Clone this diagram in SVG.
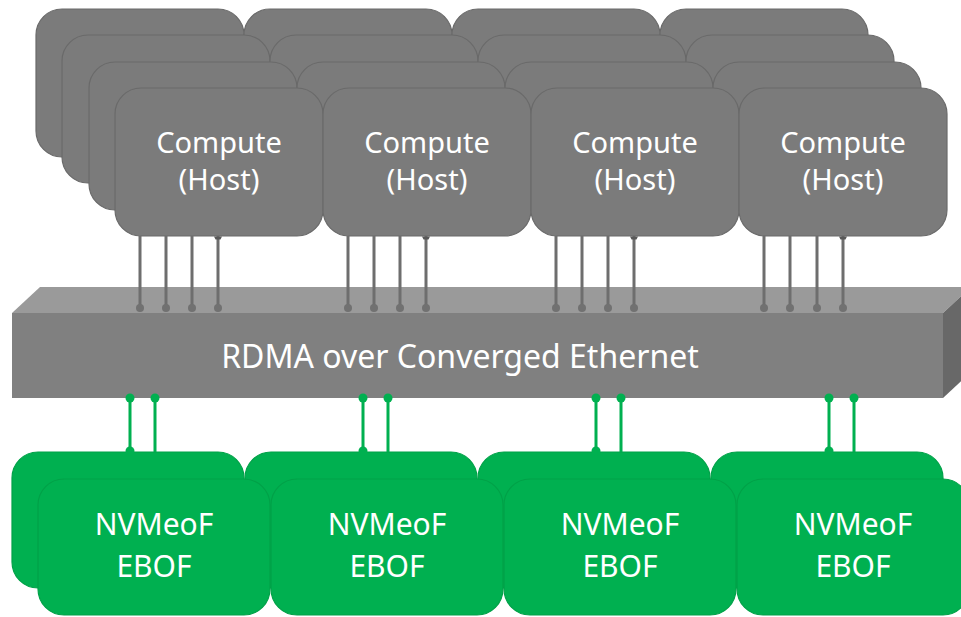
<svg xmlns="http://www.w3.org/2000/svg" width="961" height="617" viewBox="0 0 961 617">
<style>
.host{fill:#7b7b7b;stroke:#6a6a6a;stroke-width:1.2}
.ebof{fill:#00b050;stroke:#00a148;stroke-width:1.2}
.lbl{fill:#ffffff;font-family:"Noto Sans","Open Sans","Liberation Sans",sans-serif;font-weight:400;text-anchor:middle}
.hl{font-size:29px}
.el{font-size:30px}
.gl{stroke:#6e6e6e;stroke-width:3}
.gd{fill:#717171}
.nl{stroke:#00b050;stroke-width:3}
.nd{fill:#00b050}
</style>
<defs>
<rect id="hbox" width="208" height="148" rx="26" ry="26"/>
<rect id="ebox" width="232" height="136" rx="26" ry="26"/>
</defs>
<rect width="961" height="617" fill="#ffffff"/>

<!-- Compute host stacks, drawn back layer first -->
<g id="host-1-l1"><use href="#hbox" class="host" x="36" y="9"/></g>
<g id="host-2-l1"><use href="#hbox" class="host" x="244" y="9"/></g>
<g id="host-3-l1"><use href="#hbox" class="host" x="452" y="9"/></g>
<g id="host-4-l1"><use href="#hbox" class="host" x="660" y="9"/></g>
<g id="host-1-l2"><use href="#hbox" class="host" x="62" y="35"/></g>
<g id="host-2-l2"><use href="#hbox" class="host" x="270" y="35"/></g>
<g id="host-3-l2"><use href="#hbox" class="host" x="478" y="35"/></g>
<g id="host-4-l2"><use href="#hbox" class="host" x="686" y="35"/></g>
<g id="host-1-l3"><use href="#hbox" class="host" x="89" y="62"/></g>
<g id="host-2-l3"><use href="#hbox" class="host" x="297" y="62"/></g>
<g id="host-3-l3"><use href="#hbox" class="host" x="505" y="62"/></g>
<g id="host-4-l3"><use href="#hbox" class="host" x="713" y="62"/></g>
<g id="host-1"><use href="#hbox" class="host" x="115" y="88"/>
<text class="lbl hl" x="219" y="153">Compute</text><text class="lbl hl" x="219" y="190">(Host)</text></g>
<g id="host-2"><use href="#hbox" class="host" x="323" y="88"/>
<text class="lbl hl" x="427" y="153">Compute</text><text class="lbl hl" x="427" y="190">(Host)</text></g>
<g id="host-3"><use href="#hbox" class="host" x="531" y="88"/>
<text class="lbl hl" x="635" y="153">Compute</text><text class="lbl hl" x="635" y="190">(Host)</text></g>
<g id="host-4"><use href="#hbox" class="host" x="739" y="88"/>
<text class="lbl hl" x="843" y="153">Compute</text><text class="lbl hl" x="843" y="190">(Host)</text></g>

<!-- Switch (3D bar) -->
<g id="switch">
<polygon points="12,313 40,287 971,287 943,313" fill="#9a9a9a"/>
<polygon points="943,313 971,287 971,372 943,398" fill="#686868"/>
<rect x="12" y="313" width="931" height="85" fill="#808080"/>
<text class="lbl" x="460" y="368" font-size="32">RDMA over Converged Ethernet</text>
</g>

<!-- NVMeoF EBOF stacks -->
<g id="ebof-1-l1"><use href="#ebox" class="ebof" x="12" y="452"/></g>
<g id="ebof-2-l1"><use href="#ebox" class="ebof" x="245" y="452"/></g>
<g id="ebof-3-l1"><use href="#ebox" class="ebof" x="478" y="452"/></g>
<g id="ebof-4-l1"><use href="#ebox" class="ebof" x="711" y="452"/></g>
<g id="ebof-1"><use href="#ebox" class="ebof" x="38" y="479"/>
<text class="lbl el" x="154" y="535">NVMeoF</text><text class="lbl el" x="154" y="577">EBOF</text></g>
<g id="ebof-2"><use href="#ebox" class="ebof" x="271" y="479"/>
<text class="lbl el" x="387" y="535">NVMeoF</text><text class="lbl el" x="387" y="577">EBOF</text></g>
<g id="ebof-3"><use href="#ebox" class="ebof" x="504" y="479"/>
<text class="lbl el" x="620" y="535">NVMeoF</text><text class="lbl el" x="620" y="577">EBOF</text></g>
<g id="ebof-4"><use href="#ebox" class="ebof" x="737" y="479"/>
<text class="lbl el" x="853" y="535">NVMeoF</text><text class="lbl el" x="853" y="577">EBOF</text></g>

<!-- Connectors -->
<g id="connectors">
<g id="host-links">
<path class="gl" d="M140,236V308M166,236V308M192,236V308M218,236V308"/>
<path class="gl" d="M348,236V308M374,236V308M400,236V308M426,236V308"/>
<path class="gl" d="M556,236V308M582,236V308M608,236V308M634,236V308"/>
<path class="gl" d="M764,236V308M790,236V308M817,236V308M843,236V308"/>
<g class="gd">
<circle cx="140" cy="308" r="4"/><circle cx="166" cy="308" r="4"/><circle cx="192" cy="308" r="4"/><circle cx="218" cy="308" r="4"/>
<circle cx="348" cy="308" r="4"/><circle cx="374" cy="308" r="4"/><circle cx="400" cy="308" r="4"/><circle cx="426" cy="308" r="4"/>
<circle cx="556" cy="308" r="4"/><circle cx="582" cy="308" r="4"/><circle cx="608" cy="308" r="4"/><circle cx="634" cy="308" r="4"/>
<circle cx="764" cy="308" r="4"/><circle cx="790" cy="308" r="4"/><circle cx="817" cy="308" r="4"/><circle cx="843" cy="308" r="4"/>
</g>
<g fill="#585858">
<path d="M214,236.5h8l-1.5,3h-5z"/><path d="M422,236.5h8l-1.5,3h-5z"/><path d="M630,236.5h8l-1.5,3h-5z"/><path d="M839,236.5h8l-1.5,3h-5z"/>
</g>
</g>
<g id="ebof-links">
<path class="nl" d="M130,398V450M155,398V452"/>
<path class="nl" d="M363,398V450M388,398V452"/>
<path class="nl" d="M596,398V450M621,398V452"/>
<path class="nl" d="M829,398V450M854,398V452"/>
<g class="nd">
<circle cx="130" cy="398" r="4.5"/><circle cx="155" cy="398" r="4.5"/><circle cx="130" cy="451" r="4.5"/>
<circle cx="363" cy="398" r="4.5"/><circle cx="388" cy="398" r="4.5"/><circle cx="363" cy="451" r="4.5"/>
<circle cx="596" cy="398" r="4.5"/><circle cx="621" cy="398" r="4.5"/><circle cx="596" cy="451" r="4.5"/>
<circle cx="829" cy="398" r="4.5"/><circle cx="854" cy="398" r="4.5"/><circle cx="829" cy="451" r="4.5"/>
</g>
</g>
</g>
</svg>
